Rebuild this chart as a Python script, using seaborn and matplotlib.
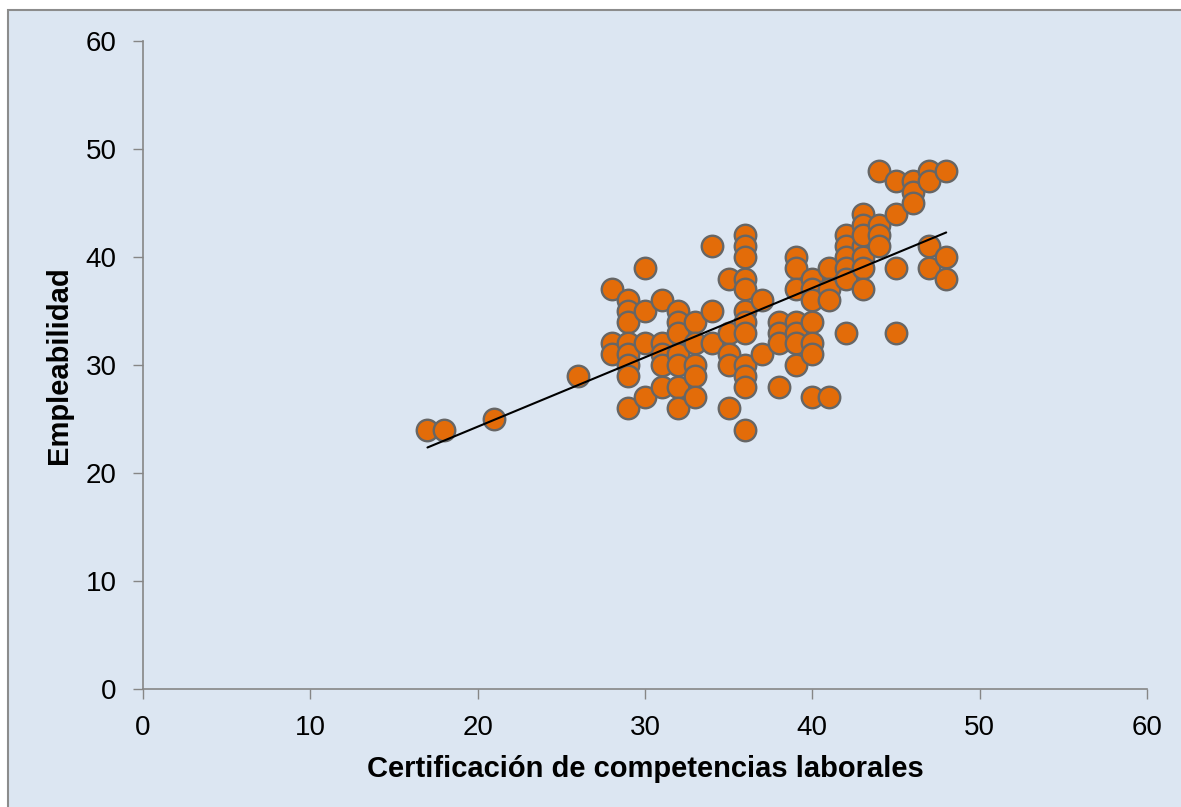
import matplotlib
matplotlib.use('Agg')
import matplotlib.pyplot as plt
import matplotlib.patches as mpatches
import seaborn as sns
import pandas as pd

# Puntos (x = certificación, y = empleabilidad)
cert_x = [17, 18, 21, 26,
          28, 28, 28,
          29, 29, 29, 29, 29, 29, 29, 29,
          30, 30, 30, 30,
          31, 31, 31, 31, 31,
          32, 32, 32, 32, 32, 32, 32,
          33, 33, 33, 33, 33,
          34, 34, 34,
          35, 35, 35, 35, 35,
          36, 36, 36, 36, 36, 36, 36, 36, 36, 36, 36, 36,
          37, 37,
          38, 38, 38, 38,
          39, 39, 39, 39, 39, 39, 39,
          40, 40, 40, 40, 40, 40, 40,
          41, 41, 41, 41,
          42, 42, 42, 42, 42, 42,
          43, 43, 43, 43, 43, 43, 43,
          44, 44, 44, 44,
          45, 45, 45, 45,
          46, 46, 46,
          47, 47, 47, 47,
          48, 48, 48]
empleab_y = [24, 24, 25, 29,
             37, 32, 31,
             36, 35, 34, 32, 31, 30, 29, 26,
             39, 35, 32, 27,
             36, 32, 31, 30, 28,
             35, 34, 33, 31, 30, 28, 26,
             34, 32, 30, 29, 27,
             41, 35, 32,
             38, 33, 31, 30, 26,
             42, 41, 40, 38, 37, 35, 34, 33, 30, 29, 28, 24,
             36, 31,
             34, 33, 32, 28,
             40, 39, 37, 34, 33, 32, 30,
             38, 37, 36, 34, 32, 31, 27,
             39, 37, 36, 27,
             42, 41, 40, 39, 38, 33,
             44, 43, 41, 40, 39, 37, 42,
             48, 43, 42, 41,
             47, 44, 39, 33,
             47, 46, 45,
             48, 47, 41, 39,
             48, 40, 38]

x_ticks = [0, 10, 20, 30, 40, 50, 60]
y_ticks = [0, 10, 20, 30, 40, 50, 60]

df = pd.DataFrame({'cert': cert_x, 'empl': empleab_y})

BG = '#DCE6F2'
sns.set_style('white')
plt.rcParams['font.family'] = ['Liberation Sans', 'DejaVu Sans']
plt.rcParams['text.color'] = 'black'
plt.rcParams['axes.labelcolor'] = 'black'
plt.rcParams['xtick.color'] = 'black'
plt.rcParams['ytick.color'] = 'black'

fig = plt.figure(figsize=(11.81, 8.07), dpi=100)
fig.patch.set_facecolor('white')
# marco gris del área del gráfico (solo se ven los bordes izquierdo y superior)
fig.patches.append(mpatches.Rectangle((8 / 1181, -0.05), 1.2, 1 - 10 / 807 + 0.05,
                                      transform=fig.transFigure, facecolor=BG,
                                      edgecolor='#8C8C8C', linewidth=1.5, zorder=-5))

ax = fig.add_axes([143 / 1181, 1 - 689 / 807, (1147 - 143) / 1181, (689 - 41) / 807])
ax.set_zorder(2)
ax.set_facecolor(BG)

sns.scatterplot(data=df, x='cert', y='empl', ax=ax, s=240, color='#E36C09',
                edgecolor='#666666', linewidth=1.7, zorder=3, legend=False)
sns.regplot(data=df, x='cert', y='empl', ax=ax, scatter=False, ci=None,
            truncate=True, line_kws={'color': 'black', 'linewidth': 1.5, 'zorder': 4})

ax.set_xlim(0, 60)
ax.set_ylim(0, 60)
ax.set_xticks(x_ticks)
ax.set_yticks(y_ticks)
ax.tick_params(axis='both', direction='out', length=7, width=1, color='#868686',
               labelcolor='black', labelsize=20, pad=12, bottom=True, left=True)
for side in ['top', 'right']:
    ax.spines[side].set_visible(False)
for side in ['left', 'bottom']:
    ax.spines[side].set_color('#868686')
    ax.spines[side].set_linewidth(1.2)

ax.set_xlabel('Certificación de competencias laborales', fontsize=21,
              fontweight='bold', labelpad=10, color='black')
ax.set_ylabel('Empleabilidad', fontsize=21, fontweight='bold', labelpad=9,
              color='black')

plt.savefig('out.png', dpi=100, facecolor=fig.get_facecolor())
plt.close()
